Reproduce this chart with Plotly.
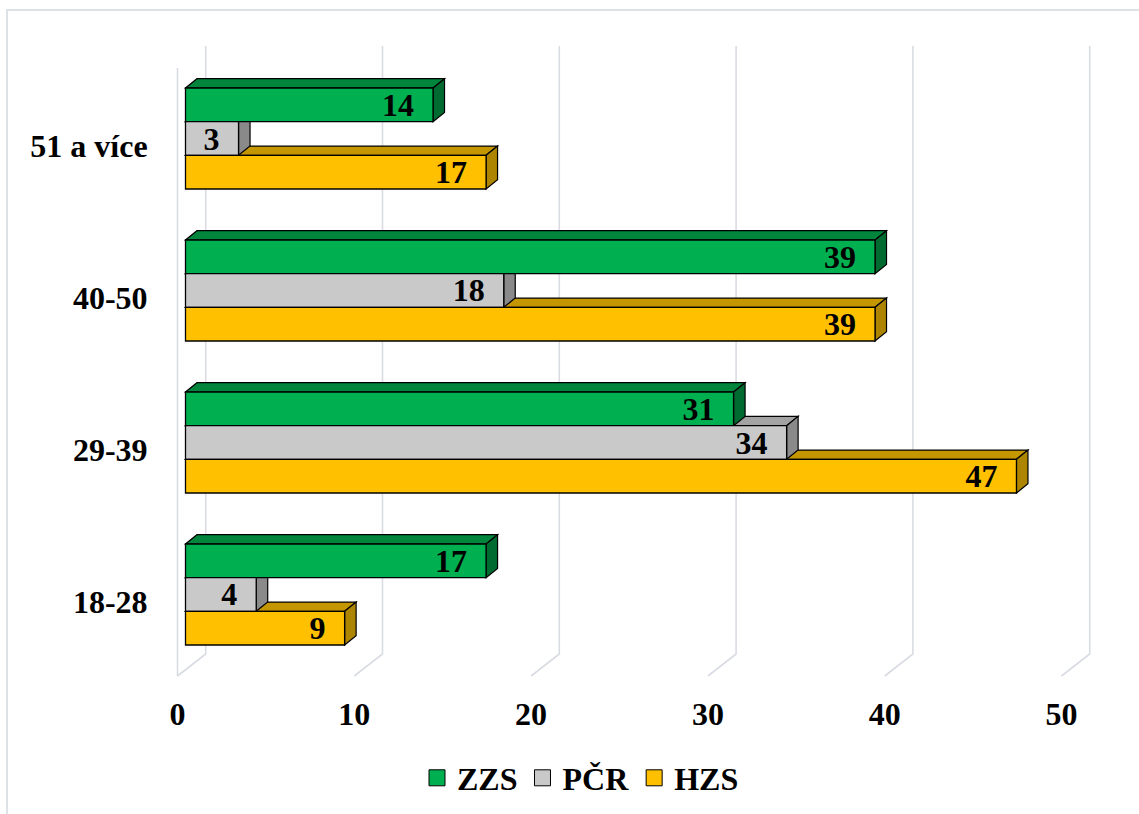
import plotly.graph_objects as go

# Age groups (bottom to top) and counts per service
categories = ["18-28", "29-39", "40-50", "51 a více"]
zzs = [17, 31, 39, 14]
pcr = [4, 34, 18, 3]
hzs = [9, 47, 39, 17]
x_ticks = [0, 10, 20, 30, 40, 50]

# name, values, front colour, top colour, side colour
series = [
    ("ZZS", zzs, "#00B050", "#00863C", "#006B30"),
    ("PČR", pcr, "#C9C9C9", "#A3A3A3", "#8A8A8A"),
    ("HZS", hzs, "#FFC000", "#C49700", "#AD8500"),
]

W, H = 1139, 814
ML, MR, MT, MB = 159, 25, 40, 134
PXU = 17.68    # pixels per value unit
X0 = 185.5     # pixel column of value 0 on the bar front plane
ROW = 152      # pixels per age group
Y0 = 594.5     # pixel row of the first group centre

x_min = -(X0 - ML) / PXU
x_max = x_min + (W - ML - MR) / PXU
y_max = (Y0 - MT) / ROW
y_min = (Y0 - (H - MB)) / ROW


def ux(px):
    return px / PXU


def uy(px):
    return px / ROW


def yrow(py):
    return (Y0 - py) / ROW


def paper_x(px):
    return (px - ML) / (W - ML - MR)


def paper_y(py):
    return ((H - MB) - py) / (H - MT - MB)


BAR_W = uy(33.67)
DX, DY = ux(11.5), uy(9.3)
FONT = "Liberation Serif, Times New Roman, serif"
FS = 32
GRID = "#D9DCE3"

shapes = []

# chart frame
shapes.append(dict(
    type="path", xref="paper", yref="paper",
    path=f"M {paper_x(7)},{paper_y(830)} L {paper_x(7)},{paper_y(10)} L {paper_x(1160)},{paper_y(10)}",
    line=dict(color="#DDE1E8", width=2), layer="below",
))

# back wall gridlines folding onto the floor
for v in x_ticks:
    xb, xf = v + ux(20.2), v - ux(8)
    shapes.append(dict(
        type="path", xref="x", yref="y",
        path=f"M {xb},{yrow(46)} L {xb},{yrow(654)} L {xf},{yrow(676)}",
        line=dict(color=GRID, width=1.6), layer="below",
    ))
# side wall front edge
xf0 = x_ticks[0] - ux(8)
shapes.append(dict(
    type="path", xref="x", yref="y",
    path=f"M {xf0},{yrow(68)} L {xf0},{yrow(676)}",
    line=dict(color=GRID, width=1.6), layer="below",
))

offsets = {"ZZS": BAR_W, "PČR": 0.0, "HZS": -BAR_W}

# top and side faces of each bar, back row first
for k in range(len(categories)):
    for name, vals, front, top, side in reversed(series):
        v = vals[k]
        yc = k + offsets[name]
        t, b = yc + BAR_W / 2, yc - BAR_W / 2
        shapes.append(dict(
            type="path", xref="x", yref="y",
            path=f"M 0,{t} L {v},{t} L {v + DX},{t + DY} L {DX},{t + DY} Z",
            fillcolor=top, line=dict(color="black", width=1.2), layer="below",
        ))
        shapes.append(dict(
            type="path", xref="x", yref="y",
            path=f"M {v},{t} L {v + DX},{t + DY} L {v + DX},{b + DY} L {v},{b} Z",
            fillcolor=side, line=dict(color="black", width=1.2), layer="below",
        ))

fig = go.Figure()

for name, vals, front, top, side in series:
    fig.add_trace(go.Bar(
        x=vals,
        y=[k + offsets[name] for k in range(len(categories))],
        width=BAR_W,
        orientation="h",
        name=name,
        legendgroup=name,
        showlegend=False,
        marker=dict(color=front, line=dict(color="black", width=1.3)),
        texttemplate="%{x}\u00a0\u00a0",
        textposition="inside",
        insidetextanchor="end",
        textangle=0,
        constraintext="none",
        textfont=dict(family=FONT, size=FS, color="black", weight="bold"),
        hoverinfo="skip",
    ))

for name, vals, front, top, side in series:
    fig.add_trace(go.Scatter(
        x=[None], y=[None], mode="markers", name=name, legendgroup=name,
        marker=dict(symbol="square", size=16, color=front,
                    line=dict(color="black", width=1)),
    ))

fig.update_layout(
    width=W, height=H,
    margin=dict(l=ML, r=MR, t=MT, b=MB, pad=0),
    paper_bgcolor="white", plot_bgcolor="white",
    barmode="overlay",
    shapes=shapes,
    font=dict(family=FONT, size=FS, color="black", weight="bold"),
    xaxis=dict(
        range=[x_min, x_max], showgrid=False, zeroline=False, showline=False,
        tickvals=[v - ux(8) for v in x_ticks], ticktext=[str(v) for v in x_ticks],
        ticks="outside", ticklen=6, tickcolor="rgba(0,0,0,0)",
        tickfont=dict(family=FONT, size=FS, color="black", weight="bold"),
    ),
    yaxis=dict(
        range=[y_min, y_max], showgrid=False, zeroline=False, showline=False,
        tickvals=[k - uy(7) for k in range(len(categories))], ticktext=categories,
        ticks="outside", ticklen=4, tickcolor="rgba(0,0,0,0)",
        tickfont=dict(family=FONT, size=FS, color="black", weight="bold"),
    ),
    legend=dict(
        orientation="h", xref="container", yref="container",
        x=417 / W, xanchor="left", y=1 - 778 / H, yanchor="middle",
        font=dict(family=FONT, size=FS, color="black", weight="bold"),
        bgcolor="rgba(0,0,0,0)",
    ),
)

fig.write_html("out.html")
